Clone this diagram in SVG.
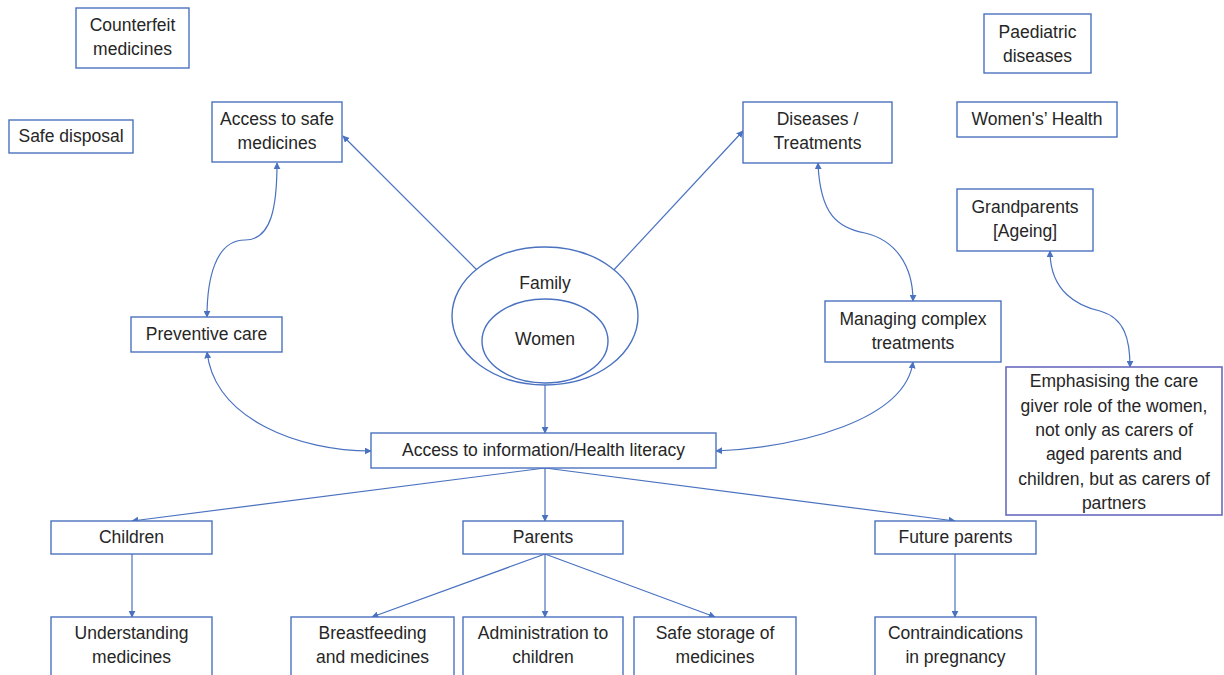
<svg xmlns="http://www.w3.org/2000/svg" width="1224" height="675" viewBox="0 0 1224 675">
<defs>
<style>
.box{fill:#fff;stroke:#4a72c0;stroke-width:1.4}
.box2{fill:#fff;stroke:#6a6abf;stroke-width:1.6}
.t{font-family:"Liberation Sans",Arial,sans-serif;font-size:17.5px;fill:#262626;text-anchor:middle;dominant-baseline:middle}
.c{fill:none;stroke:#4a72c0;stroke-width:1.2}
</style>
<marker id="ah" viewBox="0 0 10 10" refX="9" refY="5" markerWidth="7" markerHeight="7" orient="auto-start-reverse" markerUnits="userSpaceOnUse">
<path d="M0,0 L10,5 L0,10 z" fill="#4a72c0"/>
</marker>
</defs>
<rect width="1224" height="675" fill="#fff"/>
<g id="connectors">
<line class="c" x1="477" y1="270" x2="343" y2="136" marker-end="url(#ah)"/>
<line class="c" x1="611" y1="273" x2="743" y2="131" marker-end="url(#ah)"/>
<line class="c" x1="545" y1="385" x2="545" y2="433" marker-end="url(#ah)"/>
<path class="c" d="M277,163 C277,205 272,240 245,240 C215,240 207,280 207,317" marker-start="url(#ah)" marker-end="url(#ah)"/>
<path class="c" d="M207,352 C215,420 300,451 371,451" marker-start="url(#ah)" marker-end="url(#ah)"/>
<path class="c" d="M818,163 C820,215 838,228 865,233 C895,240 913,265 913,301" marker-start="url(#ah)" marker-end="url(#ah)"/>
<path class="c" d="M913,362 C905,420 800,447 716,451" marker-start="url(#ah)" marker-end="url(#ah)"/>
<path class="c" d="M1050,251 C1050,292 1078,306 1100,311 C1125,318 1130,340 1130,367" marker-start="url(#ah)" marker-end="url(#ah)"/>
<line class="c" x1="545" y1="468" x2="132" y2="521" marker-end="url(#ah)"/>
<line class="c" x1="545" y1="468" x2="545" y2="521" marker-end="url(#ah)"/>
<line class="c" x1="545" y1="468" x2="955" y2="521" marker-end="url(#ah)"/>
<line class="c" x1="132" y1="554" x2="132" y2="617" marker-end="url(#ah)"/>
<line class="c" x1="545" y1="554" x2="372" y2="617" marker-end="url(#ah)"/>
<line class="c" x1="545" y1="554" x2="545" y2="617" marker-end="url(#ah)"/>
<line class="c" x1="545" y1="554" x2="715" y2="617" marker-end="url(#ah)"/>
<line class="c" x1="955" y1="554" x2="955" y2="617" marker-end="url(#ah)"/>
</g>
<g id="counterfeit"><rect class="box" x="76" y="8" width="113" height="60"/><text class="t" x="132.5" y="26">Counterfeit</text><text class="t" x="132.5" y="50">medicines</text></g>
<g id="safe-disposal"><rect class="box" x="9" y="120" width="124" height="33"/><text class="t" x="71" y="137">Safe disposal</text></g>
<g id="access-safe"><rect class="box" x="212" y="102" width="130" height="60"/><text class="t" x="277" y="120">Access to safe</text><text class="t" x="277" y="144">medicines</text></g>
<g id="diseases"><rect class="box" x="743" y="102" width="149" height="61"/><text class="t" x="817.5" y="120">Diseases /</text><text class="t" x="817.5" y="144">Treatments</text></g>
<g id="paediatric"><rect class="box" x="984" y="14" width="107" height="59"/><text class="t" x="1037.5" y="33">Paediatric</text><text class="t" x="1037.5" y="57">diseases</text></g>
<g id="womens-health"><rect class="box" x="957" y="102" width="160" height="35"/><text class="t" x="1037" y="120">Women's’ Health</text></g>
<g id="grandparents"><rect class="box" x="957" y="189" width="136" height="62"/><text class="t" x="1025" y="208">Grandparents</text><text class="t" x="1025" y="232">[Ageing]</text></g>
<g id="preventive"><rect class="box" x="131" y="317" width="151" height="35"/><text class="t" x="206.5" y="335">Preventive care</text></g>
<g id="managing"><rect class="box" x="825" y="301" width="176" height="61"/><text class="t" x="913" y="320">Managing complex</text><text class="t" x="913" y="344">treatments</text></g>
<g id="emphasising"><rect class="box2" x="1006" y="367" width="216" height="148"/>
<text class="t" x="1114" y="382">Emphasising the care</text>
<text class="t" x="1114" y="407">giver role of the women,</text>
<text class="t" x="1114" y="431">not only as carers of</text>
<text class="t" x="1114" y="455">aged parents and</text>
<text class="t" x="1114" y="480">children, but as carers of</text>
<text class="t" x="1114" y="504">partners</text></g>
<g id="family"><ellipse cx="545" cy="316" rx="93" ry="69" fill="#fff" stroke="#4a72c0" stroke-width="1.4"/><text class="t" x="545" y="284">Family</text></g>
<g id="women"><ellipse cx="545" cy="341" rx="63" ry="42" fill="#fff" stroke="#4a72c0" stroke-width="1.4"/><text class="t" x="545" y="340">Women</text></g>
<g id="access-info"><rect class="box" x="371" y="433" width="345" height="35"/><text class="t" x="543.5" y="451">Access to information/Health literacy</text></g>
<g id="children"><rect class="box" x="51" y="521" width="161" height="33"/><text class="t" x="131.5" y="538">Children</text></g>
<g id="parents"><rect class="box" x="463" y="521" width="160" height="33"/><text class="t" x="543" y="538">Parents</text></g>
<g id="future-parents"><rect class="box" x="875" y="521" width="161" height="33"/><text class="t" x="955.5" y="538">Future parents</text></g>
<g id="understanding"><rect class="box" x="51" y="617" width="161" height="64"/><text class="t" x="131.5" y="634">Understanding</text><text class="t" x="131.5" y="658">medicines</text></g>
<g id="breastfeeding"><rect class="box" x="291" y="617" width="163" height="64"/><text class="t" x="372.5" y="634">Breastfeeding</text><text class="t" x="372.5" y="658">and medicines</text></g>
<g id="administration"><rect class="box" x="463" y="617" width="160" height="64"/><text class="t" x="543" y="634">Administration to</text><text class="t" x="543" y="658">children</text></g>
<g id="safe-storage"><rect class="box" x="634" y="617" width="162" height="64"/><text class="t" x="715" y="634">Safe storage of</text><text class="t" x="715" y="658">medicines</text></g>
<g id="contraindications"><rect class="box" x="875" y="617" width="161" height="64"/><text class="t" x="955.5" y="634">Contraindications</text><text class="t" x="955.5" y="658">in pregnancy</text></g>
</svg>
